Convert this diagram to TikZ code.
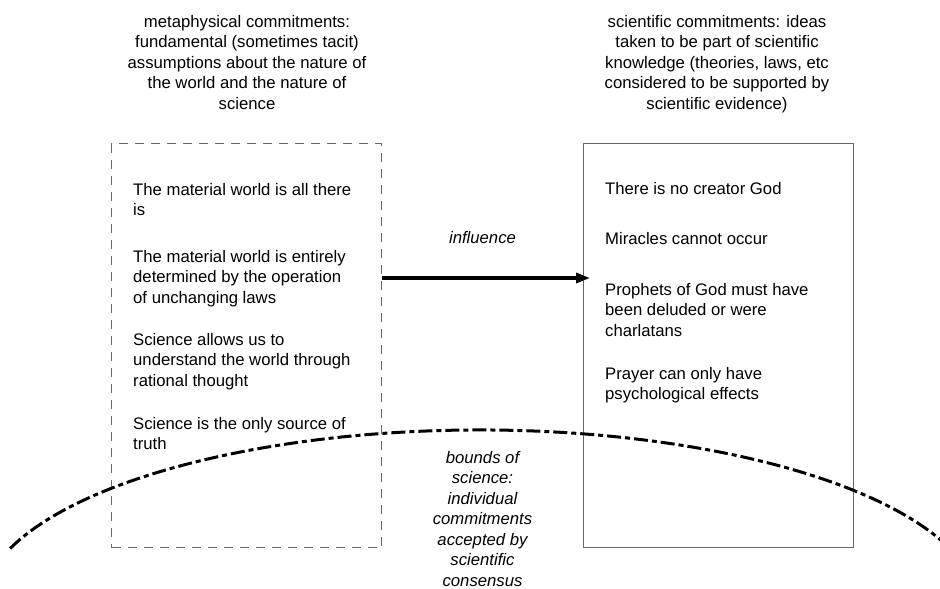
\documentclass[tikz,border=0pt]{standalone}
\usepackage{fontspec}
\setmainfont{Liberation Sans}
\usetikzlibrary{arrows.meta}
\definecolor{edge}{RGB}{105,105,105}
\begin{document}
\begin{tikzpicture}[x=1bp,y=-1bp,
  body/.style={font=\fontsize{16.7bp}{20.5bp}\selectfont, inner sep=0pt},
  item/.style={body, align=left, anchor=north west},
  head/.style={body, align=center, anchor=north},
  note/.style={body, align=center, font=\fontsize{16.7bp}{20.5bp}\selectfont\itshape},
  panel/.style={draw=edge, line width=1.2bp, minimum width=270bp, minimum height=404bp, anchor=north west, inner sep=0pt},
  bound/.style={line width=3bp, dash pattern=on 14bp off 4bp on 5bp off 4bp},
  link/.style={line width=3.3bp, -{Triangle[length=14bp,width=10bp]}, shorten >=-7bp}]
\useasboundingbox (0,0) rectangle (940,589);

% headings
\node[head] (hmeta) at (247,14.8) {metaphysical commitments:\\fundamental (sometimes tacit)\\assumptions about the nature of\\the world and the nature of\\science};
\node[head] (hsci) at (717,14.8) {scientific commitments: ideas\\taken to be part of scientific\\knowledge (theories, laws, etc\\considered to be supported by\\scientific evidence)};

% the two panels
\node[panel, dash pattern=on 9bp off 7bp] (lbox) at (111,143) {};
\node[panel] (rbox) at (583,143) {};

% metaphysical items
\node[item] (m1) at (133,182.8) {The material world is all there\\is};
\node[item] (m2) at (133,249.8) {The material world is entirely\\determined by the operation\\of unchanging laws};
\node[item] (m3) at (133,332.8) {Science allows us to\\understand the world through\\rational thought};
\node[item] (m4) at (133,416.8) {Science is the only source of\\truth};

% scientific items
\node[item] (s1) at (605,181.8) {There is no creator God};
\node[item] (s2) at (605,231.8) {Miracles cannot occur};
\node[item] (s3) at (605,282.8) {Prophets of God must have\\been deluded or were\\charlatans};
\node[item] (s4) at (605,366.8) {Prayer can only have\\psychological effects};

% influence arrow
\coordinate (arr) at (381,278);
\node[note, anchor=base] (infl) at (482.5,244) {influence};
\draw[link] (lbox.east |- arr) -- (rbox.west |- arr);

% bounds of science
\node[note, anchor=north] (bnd) at (482.5,450.8) {bounds of\\science:\\individual\\commitments\\accepted by\\scientific\\consensus};
\begin{scope}
  \clip (0,0) rectangle (940,589);
  \draw[bound] (480,610) ++(160:500bp and 180bp) arc[start angle=160, end angle=20, x radius=500bp, y radius=180bp];
\end{scope}
\end{tikzpicture}
\end{document}
